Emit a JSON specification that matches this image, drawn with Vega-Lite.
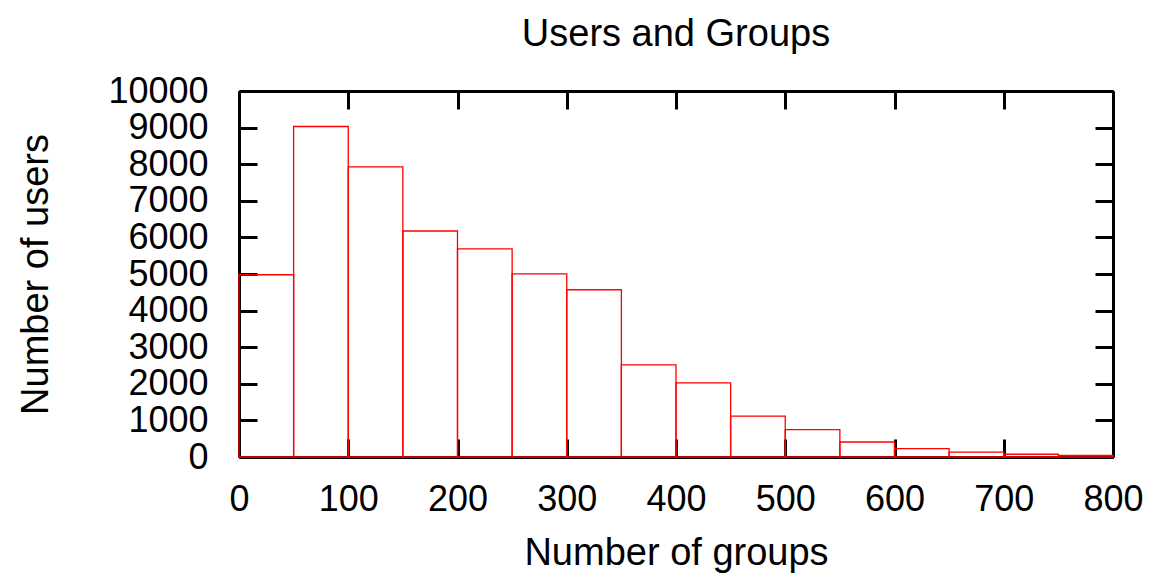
{
  "$schema": "https://vega.github.io/schema/vega-lite/v6.json",
  "width": 874,
  "height": 366,
  "autosize": "none",
  "padding": {"left": 239, "top": 91, "right": 41, "bottom": 119},
  "background": "white",
  "title": {
    "text": "Users and Groups",
    "font": "Liberation Sans",
    "fontSize": 38,
    "fontWeight": "normal",
    "color": "black",
    "anchor": "middle",
    "offset": 19
  },
  "config": {
    "view": {"stroke": null},
    "axis": {
      "grid": false,
      "domainColor": "black",
      "domainWidth": 3,
      "tickColor": "black",
      "tickWidth": 3,
      "tickSize": -18,
      "labelFont": "Liberation Sans",
      "labelFontSize": 36,
      "labelColor": "black",
      "labelFlush": false,
      "labelOverlap": false,
      "titleFont": "Liberation Sans",
      "titleFontSize": 38,
      "titleFontWeight": "normal",
      "titleColor": "black",
      "format": "d",
      "zindex": 1
    }
  },
  "data": {
    "values": [
      {"start": 0, "end": 50, "users": 4980},
      {"start": 50, "end": 100, "users": 9030},
      {"start": 100, "end": 150, "users": 7925},
      {"start": 150, "end": 200, "users": 6175},
      {"start": 200, "end": 250, "users": 5685},
      {"start": 250, "end": 300, "users": 5005},
      {"start": 300, "end": 350, "users": 4570},
      {"start": 350, "end": 400, "users": 2515},
      {"start": 400, "end": 450, "users": 2025},
      {"start": 450, "end": 500, "users": 1115},
      {"start": 500, "end": 550, "users": 750},
      {"start": 550, "end": 600, "users": 410},
      {"start": 600, "end": 650, "users": 230},
      {"start": 650, "end": 700, "users": 135},
      {"start": 700, "end": 750, "users": 75},
      {"start": 750, "end": 800, "users": 45}
    ]
  },
  "layer": [
    {
      "mark": {"type": "rect", "fill": "transparent", "stroke": "#ff0000", "strokeWidth": 1.3},
      "encoding": {
        "x": {
          "field": "start", "type": "quantitative",
          "scale": {"domain": [0, 800], "nice": false, "zero": false},
          "axis": {"orient": "bottom", "title": "Number of groups", "values": [0,100,200,300,400,500,600,700,800], "labelPadding": 43, "titlePadding": 17}
        },
        "x2": {"field": "end"},
        "y": {
          "field": "users", "type": "quantitative",
          "scale": {"domain": [0, 10000], "nice": false},
          "axis": {"orient": "left", "title": "Number of users", "values": [0,1000,2000,3000,4000,5000,6000,7000,8000,9000,10000], "labelPadding": 49, "titlePadding": 52}
        },
        "y2": {"datum": 0}
      }
    },
    {
      "mark": {"type": "rect", "opacity": 0},
      "encoding": {
        "x": {
          "field": "start", "type": "quantitative",
          "scale": {"domain": [0, 800], "nice": false, "zero": false},
          "axis": {"orient": "top", "title": null, "labels": false, "values": [0,100,200,300,400,500,600,700,800]}
        },
        "x2": {"field": "end"},
        "y": {
          "field": "users", "type": "quantitative",
          "scale": {"domain": [0, 10000], "nice": false},
          "axis": {"orient": "right", "title": null, "labels": false, "values": [0,1000,2000,3000,4000,5000,6000,7000,8000,9000,10000]}
        },
        "y2": {"datum": 0}
      }
    }
  ],
  "resolve": {"axis": {"x": "independent", "y": "independent"}}
}
